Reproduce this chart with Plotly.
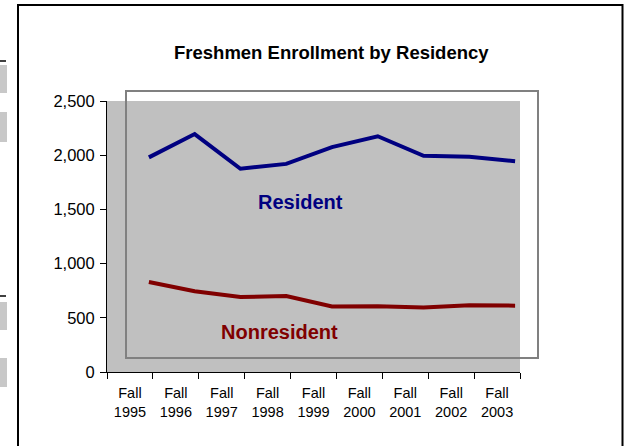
import plotly.graph_objects as go

# ---- data ----
categories = ["Fall 1995", "Fall 1996", "Fall 1997", "Fall 1998", "Fall 1999",
              "Fall 2000", "Fall 2001", "Fall 2002", "Fall 2003"]
tick_labels = ["Fall<br>1995", "Fall<br>1996", "Fall<br>1997", "Fall<br>1998", "Fall<br>1999",
               "Fall<br>2000", "Fall<br>2001", "Fall<br>2002", "Fall<br>2003"]
resident = [1980, 2195, 1875, 1920, 2075, 2175, 1995, 1985, 1945]
nonresident = [830, 745, 692, 700, 605, 607, 596, 616, 612]
y_ticks = [0, 500, 1000, 1500, 2000, 2500]

W, H = 624, 446
PL, PT, PB, PR = 107, 101, 372, 538
L = PL
T = PT
R = W - PR
B = H - PB
PW = PR - PL
PH = PB - PT

def px(x):
    return (x - PL) / PW

def py(y):
    return (PB - y) / PH

FONT = "Liberation Sans, Arial, sans-serif"

fig = go.Figure()
# invisible carrier trace so the visible category axis gets its categories
fig.add_trace(go.Scatter(x=categories, y=resident, mode="lines", xaxis="x", yaxis="y",
                         line=dict(color="rgba(0,0,0,0)", width=0), hoverinfo="skip",
                         showlegend=False))
fig.add_trace(go.Scatter(x=categories, y=resident, mode="lines", xaxis="x2", yaxis="y",
                         line=dict(color="#000080", width=4), name="Resident"))
fig.add_trace(go.Scatter(x=categories, y=nonresident, mode="lines", xaxis="x2", yaxis="y",
                         line=dict(color="#800000", width=4), name="Nonresident"))

xdom_end = px(520)

fig.update_layout(
    width=W, height=H,
    margin=dict(l=L, r=R, t=T, b=B, pad=0, autoexpand=False),
    paper_bgcolor="white",
    plot_bgcolor="rgba(0,0,0,0)",
    showlegend=False,
    font=dict(family=FONT, color="black"),
    xaxis=dict(
        domain=[0, xdom_end], type="category", categoryorder="array", categoryarray=categories,
        tickmode="array", tickvals=categories, ticktext=tick_labels,
        range=[-0.5, len(categories) - 0.5],
        tickson="boundaries", ticks="outside", ticklen=6, tickcolor="black",
        showline=True, linecolor="black", linewidth=1, showgrid=False, zeroline=False,
        ticklabelstandoff=8,
        tickfont=dict(size=14.5, family=FONT, color="black"),
    ),
    xaxis2=dict(
        domain=[px(126), 1], anchor="y", type="category", categoryorder="array",
        categoryarray=categories, range=[-0.5, len(categories) - 0.5], visible=False,
    ),
    yaxis=dict(
        domain=[0, 1], range=[0, 2500], tickmode="array", tickvals=y_ticks,
        tickformat=",", ticks="outside", ticklen=6, tickcolor="black",
        showline=True, linecolor="black", linewidth=1, showgrid=False, zeroline=False,
        ticklabelstandoff=2,
        tickfont=dict(size=16.5, family=FONT, color="black"),
    ),
)

shapes = []
# gray plot fill
shapes.append(dict(type="rect", xref="paper", yref="paper", x0=0, x1=xdom_end, y0=0, y1=1,
                   fillcolor="#C0C0C0", line=dict(width=0), layer="below"))
# offset plot-area border
shapes.append(dict(type="rect", xref="paper", yref="paper", x0=px(126), x1=px(538),
                   y0=py(358), y1=py(91), fillcolor="rgba(0,0,0,0)",
                   line=dict(color="#808080", width=2), layer="below"))
# chart outer border
shapes.append(dict(type="rect", xref="paper", yref="paper", x0=px(18), x1=px(622.5),
                   y0=py(460), y1=py(5), fillcolor="rgba(0,0,0,0)",
                   line=dict(color="black", width=2), layer="above"))
# left-edge cell fragments
for (y0, y1) in [(65, 93), (112, 142), (302, 330), (358, 387)]:
    shapes.append(dict(type="rect", xref="paper", yref="paper", x0=px(-12), x1=px(7),
                       y0=py(y1), y1=py(y0), fillcolor="#C8C8C8", line=dict(width=0),
                       layer="above"))
for yy in [61, 296]:
    shapes.append(dict(type="line", xref="paper", yref="paper", x0=px(-12), x1=px(6),
                       y0=py(yy), y1=py(yy), line=dict(color="black", width=1.5)))
fig.update_layout(shapes=shapes)

annotations = [
    dict(text="<b>Freshmen Enrollment by Residency</b>", x=px(331), y=py(53), xref="paper",
         yref="paper", showarrow=False, xanchor="center", yanchor="middle",
         font=dict(size=18.5, family=FONT, color="black")),
    dict(text="<b>Resident</b>", x=px(300), y=py(202), xref="paper", yref="paper",
         showarrow=False, xanchor="center", yanchor="middle",
         font=dict(size=20, family=FONT, color="#000080")),
    dict(text="<b>Nonresident</b>", x=px(279.5), y=py(332), xref="paper", yref="paper",
         showarrow=False, xanchor="center", yanchor="middle",
         font=dict(size=20, family=FONT, color="#800000")),
]
fig.update_layout(annotations=annotations)

fig.write_html(
    "out.html",
    config={"displayModeBar": False},
    post_script="document.body.style.margin='0';document.body.style.overflow='hidden';",
)
